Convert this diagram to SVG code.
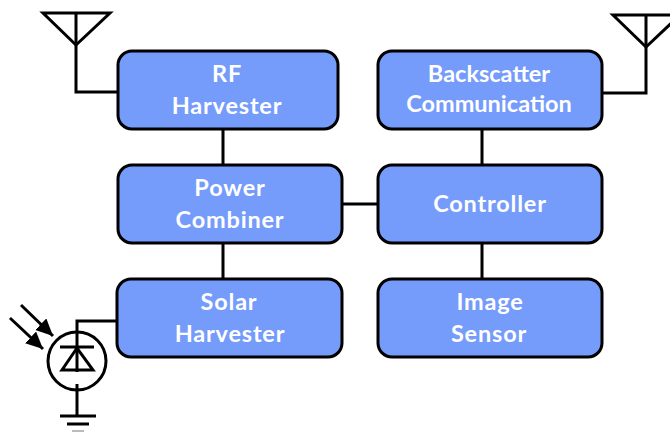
<svg xmlns="http://www.w3.org/2000/svg" width="670" height="432" viewBox="0 0 670 432">
<defs>
<marker id="ah" markerUnits="userSpaceOnUse" markerWidth="20" markerHeight="18" refX="17" refY="8" orient="auto"><path d="M0 0L17 8L0 16Z" fill="#000" stroke="none"/></marker>
</defs>
<style>
.box{fill:#759bfb;stroke:#000;stroke-width:3}
.t{font-family:"Lato","Liberation Sans",sans-serif;font-weight:700;font-size:23.5px;fill:#fff;text-anchor:middle;letter-spacing:.8px}
.n{letter-spacing:0}
.l{fill:none;stroke:#000;stroke-width:3}
</style>
<rect width="670" height="432" fill="#fff"/>
<g id="connectors" class="l">
<path d="M223 128V165M223 242V279M342 204H378M482 128V165M482 242V279"/>
<path d="M76 13V92H118M603 93H646V14"/>
<path d="M77 336V321H117"/>
<path d="M77 336V372M77 384V416"/>
</g>
<g id="antenna-left" class="l"><path d="M43 13H110L76 45Z"/></g>
<g id="antenna-right" class="l"><path d="M613 15H680L646 47Z"/></g>
<g id="rf-harvester"><rect class="box" x="118" y="51" width="220" height="78" rx="14"/><text class="t" x="227" y="82">RF</text><text class="t" x="227" y="114">Harvester</text></g>
<g id="backscatter"><rect class="box" x="378" y="51" width="224" height="78" rx="14"/><text class="t n" x="489" y="82">Backscatter</text><text class="t n" x="489" y="112">Communication</text></g>
<g id="power-combiner"><rect class="box" x="118" y="165" width="224" height="78" rx="14"/><text class="t" x="230" y="196">Power</text><text class="t" x="230" y="228">Combiner</text></g>
<g id="controller"><rect class="box" x="378" y="165" width="224" height="78" rx="14"/><text class="t" x="490" y="212">Controller</text></g>
<g id="solar-harvester"><rect class="box" x="117" y="279" width="225" height="78" rx="14"/><text class="t" x="229" y="310">Solar</text><text class="t" x="230" y="342">Harvester</text></g>
<g id="image-sensor"><rect class="box" x="378" y="279" width="224" height="78" rx="14"/><text class="t" x="490" y="310">Image</text><text class="t" x="489" y="342">Sensor</text></g>
<g id="photodiode" class="l">
<circle cx="77" cy="361" r="29"/>
<path d="M60 347H94M77 348L62 370H93Z"/>
<path d="M21 305L53 336" marker-end="url(#ah)"/>
<path d="M10 318L43 349" marker-end="url(#ah)"/>
<path d="M60 416H96M67 424H89"/>
<path d="M72 431H84" stroke="#bbb" stroke-width="2"/>
</g>
</svg>
